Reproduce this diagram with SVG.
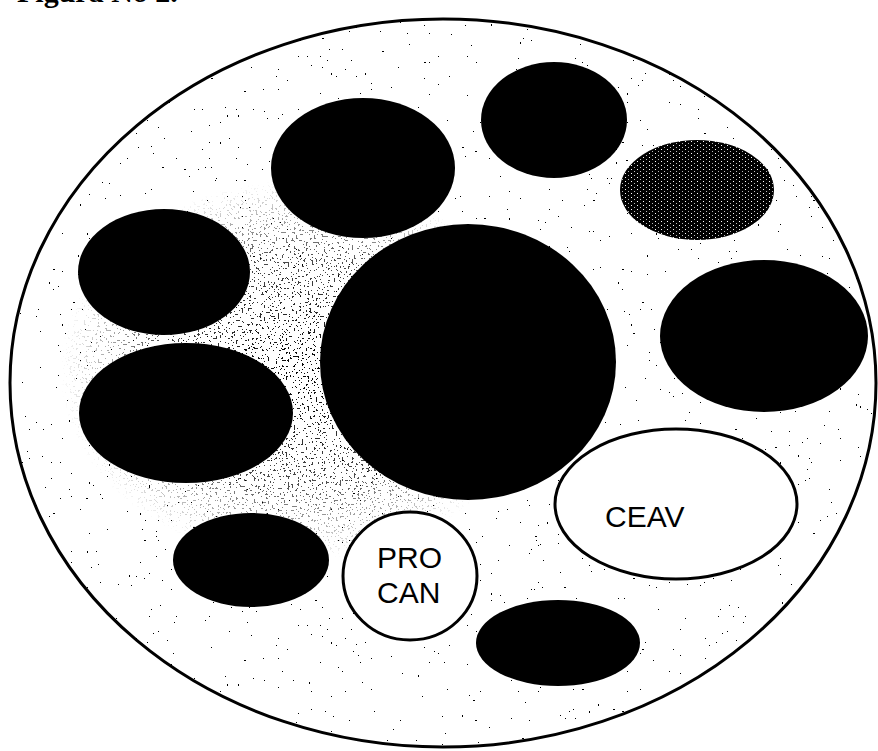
<svg xmlns="http://www.w3.org/2000/svg" width="878" height="751" viewBox="0 0 878 751">
  <style>
    .blob { fill: #000; }
    .white { fill: #fff; stroke: #000; stroke-width: 3; }
    .lbl { font-family: "Liberation Sans", Arial, sans-serif; font-size: 30px; fill: #000; }
    .title { font-family: "Liberation Serif", "Times New Roman", serif; font-size: 30px; font-weight: bold; fill: #000; }
  </style>
  <defs>
    <clipPath id="outerClip">
      <ellipse cx="443" cy="383" rx="433" ry="364"/>
    </clipPath>
    <filter id="speckSparse" x="0" y="0" width="878" height="751" filterUnits="userSpaceOnUse">
      <feTurbulence type="fractalNoise" baseFrequency="0.45" numOctaves="1" seed="7"/>
      <feColorMatrix type="matrix" values="0 0 0 0 0  0 0 0 0 0  0 0 0 0 0  1 0 0 0 0"/>
      <feComponentTransfer>
        <feFuncA type="discrete" tableValues="0 0 0 0 0 0 0 0 0 0 0 0 0 0 0 1 1 1 1 1"/>
      </feComponentTransfer>
    </filter>
    <filter id="speckDense" x="0" y="0" width="878" height="751" filterUnits="userSpaceOnUse">
      <feTurbulence type="fractalNoise" baseFrequency="0.5" numOctaves="1" seed="19"/>
      <feColorMatrix type="matrix" values="0 0 0 0 0  0 0 0 0 0  0 0 0 0 0  1 0 0 0 0"/>
      <feComponentTransfer>
        <feFuncA type="discrete" tableValues="0 0 0 0 0 0 0 0 0 0 0 0 0 1 1 1 1 1 1 1"/>
      </feComponentTransfer>
    </filter>
    <radialGradient id="denseGrad" cx="0.5" cy="0.5" r="0.5">
      <stop offset="0" stop-color="#fff" stop-opacity="1"/>
      <stop offset="0.6" stop-color="#fff" stop-opacity="0.7"/>
      <stop offset="1" stop-color="#fff" stop-opacity="0"/>
    </radialGradient>
    <mask id="denseMask" maskUnits="userSpaceOnUse" x="0" y="0" width="878" height="751">
      <ellipse cx="300" cy="370" rx="240" ry="190" fill="url(#denseGrad)"/>
    </mask>
    <pattern id="hatch" patternUnits="userSpaceOnUse" width="6" height="4">
      <rect width="6" height="4" fill="#000"/>
      <rect x="1" y="1" width="1" height="1" fill="#fff"/>
      <rect x="4" y="3" width="1" height="1" fill="#bbb"/>
    </pattern>
  </defs>

  <rect width="878" height="751" fill="#fff"/>

  <text class="title" x="17" y="2">Figura No 2.</text>

  <g id="outer">
    <ellipse cx="443" cy="383" rx="433" ry="364" fill="#fff"/>
    <g clip-path="url(#outerClip)">
      <rect x="0" y="0" width="878" height="751" fill="#000" filter="url(#speckSparse)"/>
      <g mask="url(#denseMask)">
        <rect x="0" y="0" width="878" height="751" fill="#000" filter="url(#speckDense)"/>
      </g>
    </g>
    <ellipse cx="443" cy="383" rx="433" ry="364" fill="none" stroke="#000" stroke-width="3"/>
  </g>

  <g id="n-top-left"><ellipse class="blob" cx="363" cy="168" rx="92" ry="70"/></g>
  <g id="n-top"><ellipse class="blob" cx="554" cy="120" rx="73" ry="58"/></g>
  <g id="n-hatched"><ellipse cx="697" cy="190" rx="77" ry="50" fill="url(#hatch)"/></g>
  <g id="n-left"><ellipse class="blob" cx="164" cy="272" rx="86" ry="63"/></g>
  <g id="n-center"><ellipse class="blob" cx="468" cy="362" rx="148" ry="138"/></g>
  <g id="n-right"><ellipse class="blob" cx="764" cy="336" rx="104" ry="76"/></g>
  <g id="n-left-lower"><ellipse class="blob" cx="186" cy="413" rx="107" ry="70"/></g>
  <g id="n-ceav">
    <ellipse class="white" cx="676" cy="504" rx="121" ry="75"/>
    <text class="lbl" x="605" y="527">CEAV</text>
  </g>
  <g id="n-bottom-left"><ellipse class="blob" cx="251" cy="560" rx="78" ry="47"/></g>
  <g id="n-procan">
    <ellipse class="white" cx="410" cy="576" rx="67" ry="64"/>
    <text class="lbl" x="377" y="568">PRO</text>
    <text class="lbl" x="377" y="603">CAN</text>
  </g>
  <g id="n-bottom"><ellipse class="blob" cx="558" cy="643" rx="82" ry="43"/></g>

  <g id="connectors"/>
</svg>
